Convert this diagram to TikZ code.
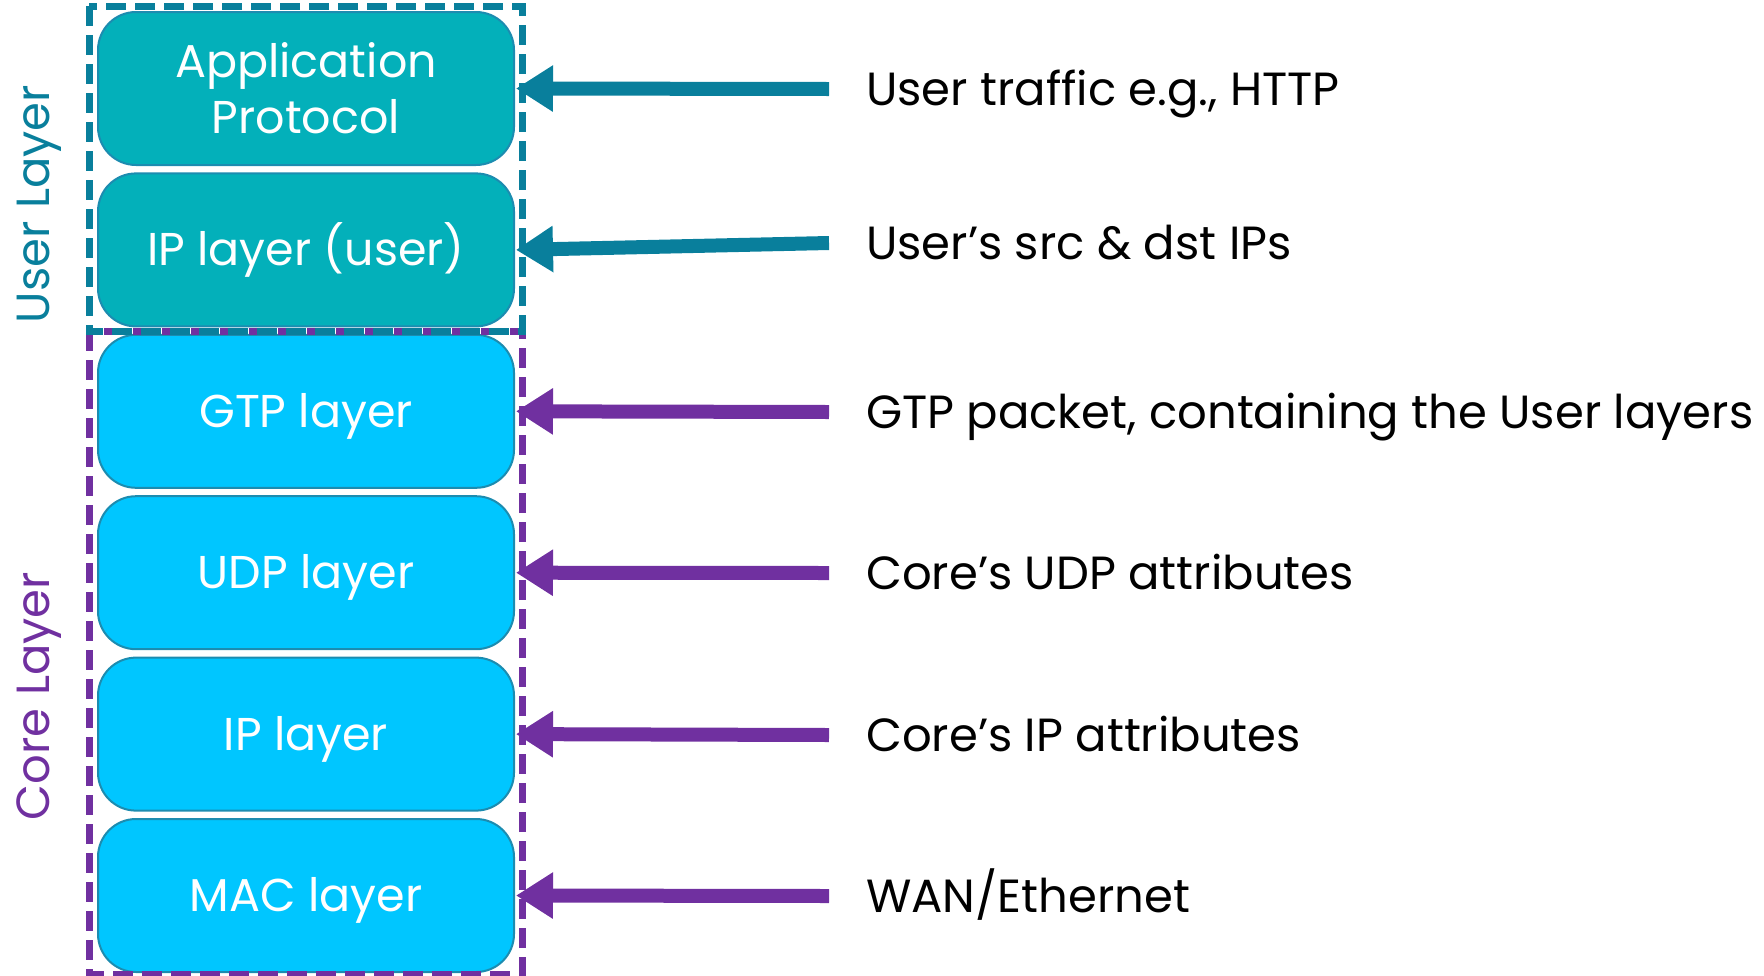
\documentclass[tikz,border=0pt]{standalone}
\usepackage{fontspec}
\setmainfont{Poppins}
\usetikzlibrary{arrows.meta}
\definecolor{tealfill}{RGB}{3,176,186}
\definecolor{corefill}{RGB}{0,198,255}
\definecolor{boxedge}{RGB}{28,140,176}
\definecolor{tealline}{RGB}{9,127,156}
\definecolor{purpleline}{RGB}{112,48,160}
\tikzset{
  layerbox/.style={draw=boxedge, line width=2pt, rounded corners=38pt,
    minimum width=416pt, minimum height=153pt, inner sep=0pt,
    text=white, align=center, font=\fontsize{46}{56}\selectfont},
  capbox/.style={text height=32pt, text depth=0pt},
  userbox/.style={layerbox, fill=tealfill},
  corebox/.style={layerbox, fill=corefill},
  desc/.style={anchor=west, inner sep=0pt, text height=33pt, text depth=0pt,
    font=\fontsize{46.5}{52}\selectfont},
  grouplbl/.style={rotate=90, inner sep=0pt, text height=33pt, text depth=0pt,
    font=\fontsize{46.5}{52}\selectfont},
  grpframe/.style={line width=7pt, dash pattern=on 20pt off 9pt},
  arr/.style={line width=14pt, -{Triangle[length=37pt,width=44pt]}}
}
\begin{document}
\begin{tikzpicture}[x=1pt,y=-1pt]
\useasboundingbox (0,0) rectangle (1764,975);
% layer boxes
\node[userbox] (app) at (306,88.5) {Application\\Protocol};
\node[userbox, capbox] (ipu) at (306,249.9) {IP layer (user)};
\node[corebox, capbox] (gtp) at (306,411.3) {GTP layer};
\node[corebox, capbox] (udp) at (306,572.7) {UDP layer};
\node[corebox, capbox] (ipc) at (306,734.1) {IP layer};
\node[corebox, capbox] (mac) at (306,895.5) {MAC layer};
% group frames
\draw[grpframe, draw=purpleline] (89,331) rectangle (522,974);
\draw[grpframe, draw=tealline] (89,6) rectangle (522,331);
% group labels
\node[grouplbl, text=tealline] (ulbl) at (33,204) {User Layer};
\node[grouplbl, text=purpleline] (clbl) at (33,696) {Core Layer};
% descriptions
\node[desc] (d1) at (866,89) {User traffic e.g., HTTP};
\node[desc] (d2) at (866,243) {User’s src \& dst IPs};
\node[desc] (d3) at (866,412) {GTP packet, containing the User layers};
\node[desc] (d4) at (866,573) {Core’s UDP attributes};
\node[desc] (d5) at (866,735) {Core’s IP attributes};
\node[desc] (d6) at (866,896) {WAN/Ethernet};
% arrows
\draw[arr, tealline] ([xshift=-37pt]d1.west) -- ([xshift=1pt]app.east);
\draw[arr, tealline] ([xshift=-37pt]d2.west) -- ([xshift=1pt]ipu.east);
\draw[arr, purpleline] ([xshift=-37pt]d3.west) -- ([xshift=1pt]gtp.east);
\draw[arr, purpleline] ([xshift=-37pt]d4.west) -- ([xshift=1pt]udp.east);
\draw[arr, purpleline] ([xshift=-37pt]d5.west) -- ([xshift=1pt]ipc.east);
\draw[arr, purpleline] ([xshift=-37pt]d6.west) -- ([xshift=1pt]mac.east);
\end{tikzpicture}
\end{document}
